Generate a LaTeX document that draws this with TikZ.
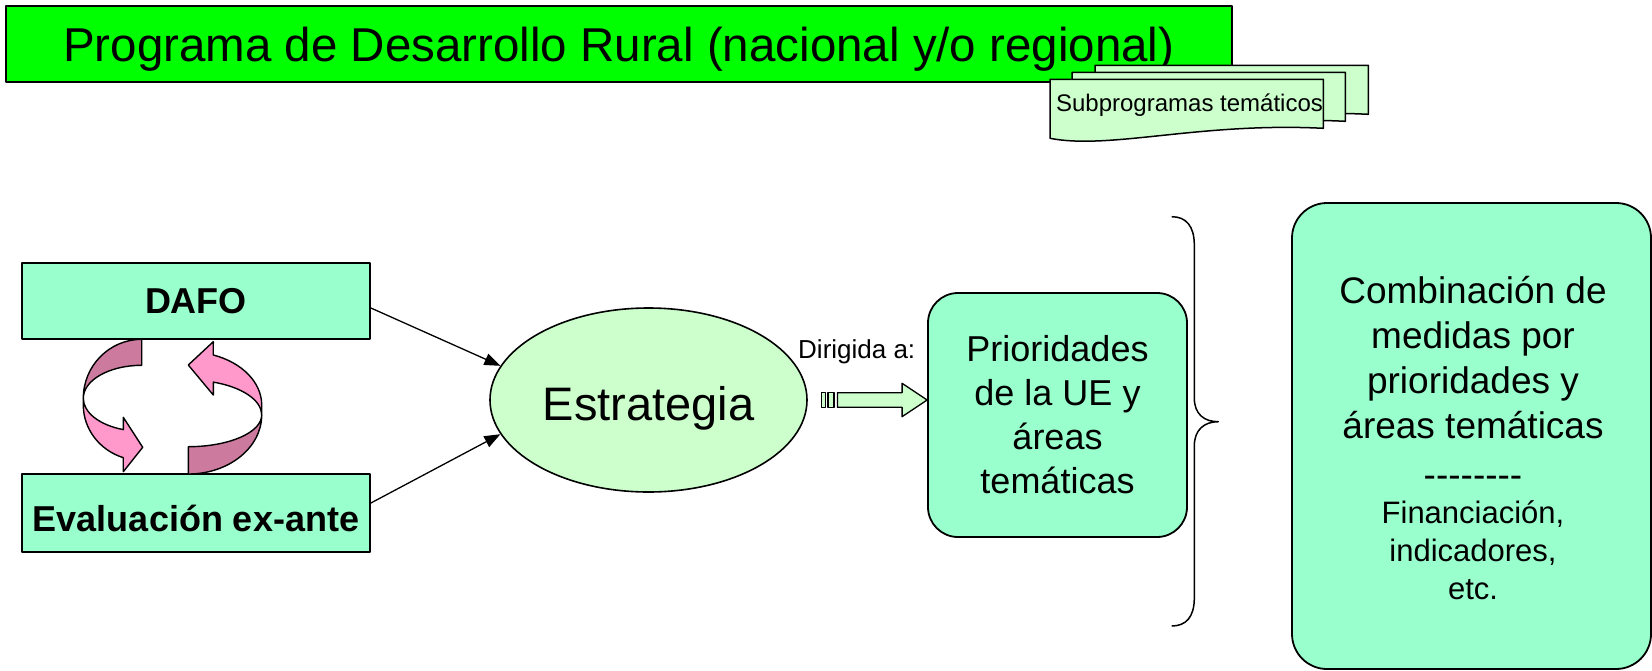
\documentclass[tikz,border=0pt]{standalone}
\usepackage{fontspec}
\setmainfont{Liberation Sans}
\usetikzlibrary{shapes.geometric,arrows.meta,calc}
\definecolor{titlegreen}{HTML}{00FF00}
\definecolor{boxgreen}{HTML}{99FFCC}
\definecolor{palegreen}{HTML}{CCFFCC}
\definecolor{mauve}{HTML}{CC7A9E}
\definecolor{pinkband}{HTML}{FF99CC}
\newcommand{\fsz}[2]{\fontsize{#1}{#2}\selectfont}
\begin{document}
\begin{tikzpicture}[x=1pt,y=-1pt,line join=round,
  box/.style={draw=black,line width=1.8pt,fill=boxgreen,inner sep=0pt},
  conn/.style={line width=1.3pt,-{Triangle[length=16pt,width=12pt]}},
  band/.style={draw=black,line width=1.4pt},
  docsheet/.style={draw=black,line width=1.5pt,fill=palegreen},
  blockarrow/.style={draw=black,line width=1.3pt,fill=palegreen}]
\useasboundingbox (0,0) rectangle (1652,670);

% title
\node[draw=black,line width=2pt,fill=titlegreen,minimum width=1225.7pt,minimum height=76pt,
  inner sep=0pt,text height=35.4pt,text depth=0pt,font=\fsz{47.5}{57}] (title) at (618.85,44)
  {Programa de Desarrollo Rural (nacional y/o regional)};

% stacked documents
\foreach \dx/\dy in {45/-14,22/-7,0/0}
  \draw[docsheet,shift={(\dx,\dy)}] (1050,79.3) -- (1323.3,79.3) -- (1323.3,128.3)
    .. controls (1200,122) and (1110,150) .. (1050,138.3) -- cycle;
\node[font=\fsz{24}{29},anchor=base,inner sep=0pt] (subtxt) at (1189.5,111.7) {Subprogramas temáticos};

% left boxes
\node[box,minimum width=348pt,minimum height=76pt,text height=24.6pt,text depth=0pt,
  font=\bfseries\fsz{36}{43}] (dafo) at (196,301) {DAFO};
\node[box,minimum width=348pt,minimum height=78pt,text height=37.4pt,text depth=0pt,
  font=\bfseries\fsz{36}{43}] (eval) at (196,513) {Evaluación ex-ante};

% circular ribbon arrows
\draw[band,fill=mauve] (141.7,339.3) arc[start angle=270,end angle=180,x radius=58.4,y radius=59]
  arc[start angle=180,end angle=270,x radius=58.4,y radius=33] -- cycle;
\draw[band,fill=pinkband] (83.3,398.3) -- (83.3,405)
  arc[start angle=180,end angle=108.4,x radius=58.4,y radius=55.5]
  -- (123.3,471.7) -- (142.7,447.3) -- (123.3,417.3) -- (123.3,429.6)
  arc[start angle=108.4,end angle=180,x radius=58.4,y radius=33] -- cycle;
\draw[band,fill=mauve] (188.3,474) arc[start angle=90,end angle=0,x radius=73.4,y radius=59]
  arc[start angle=0,end angle=90,x radius=73.4,y radius=31.7] -- cycle;
\draw[band,fill=pinkband] (261.7,415) -- (261.7,405)
  arc[start angle=0,end angle=-70.1,x radius=73.4,y radius=53.2]
  -- (213.3,341.7) -- (188.3,365) -- (213.3,395) -- (213.3,382.1)
  arc[start angle=-70.1,end angle=0,x radius=73.4,y radius=35] -- cycle;

% strategy ellipse
\node[ellipse,draw=black,line width=1.6pt,fill=palegreen,minimum width=317pt,minimum height=184pt,
  inner sep=0pt,text height=40pt,text depth=0pt,font=\fsz{47}{56}] (estr) at (648.5,400) {Estrategia};
\draw[conn] ($(dafo.east)+(0,7)$) -- (estr.167);
\draw[conn] ($(eval.east)+(0,-10)$) -- (estr.193);

% priorities
\node[box,rounded corners=30pt,minimum width=259pt,minimum height=244pt,align=center,
  font=\fsz{36}{44}] (prio) at (1057.5,415) {Prioridades\\de la UE y\\áreas\\temáticas};
\node[font=\fsz{26}{31},anchor=base west,inner sep=0pt] (dir) at (798,358.3) {Dirigida a:};
\coordinate (tip) at ($(prio.west)+(0,-15)$);
\draw[blockarrow] (tip) -- ++(-25,-16.7) -- ++(0,9.4) -- ++(-64.7,0) -- ++(0,14.6)
  -- ++(64.7,0) -- ++(0,9.4) -- cycle;
\draw[blockarrow] ($(tip)+(-105.3,-7.3)$) rectangle ++(4,14.6);
\draw[blockarrow] ($(tip)+(-99,-7.3)$) rectangle ++(6,14.6);

% brace
\draw[line width=1.5pt] (1171.7,216.7) .. controls (1186,216.7) and (1194.3,226) .. (1194.3,245)
  -- (1194.3,398) .. controls (1194.3,414) and (1204,421.7) .. (1218.3,421.7)
  .. controls (1204,421.7) and (1194.3,430) .. (1194.3,446)
  -- (1194.3,598) .. controls (1194.3,617) and (1186,626) .. (1171.7,626);

% combination box
\node[box,rounded corners=35pt,minimum width=359pt,minimum height=466pt] (comb) at (1471.5,436) {};
\node[anchor=base,inner sep=0pt,font=\fsz{37}{45}] (combtxt) at (1473,303)
  {\begin{tabular}[t]{@{}c@{}}Combinación de\\medidas por\\prioridades y\\áreas temáticas\\[4pt]
   -{}-{}-{}-{}-{}-{}-{}-\\[-9pt]{\fsz{31}{38}Financiación,}\\[-7pt]{\fsz{31}{38}indicadores,}\\[-7pt]
   {\fsz{31}{38}etc.}\end{tabular}};
\end{tikzpicture}
\end{document}
